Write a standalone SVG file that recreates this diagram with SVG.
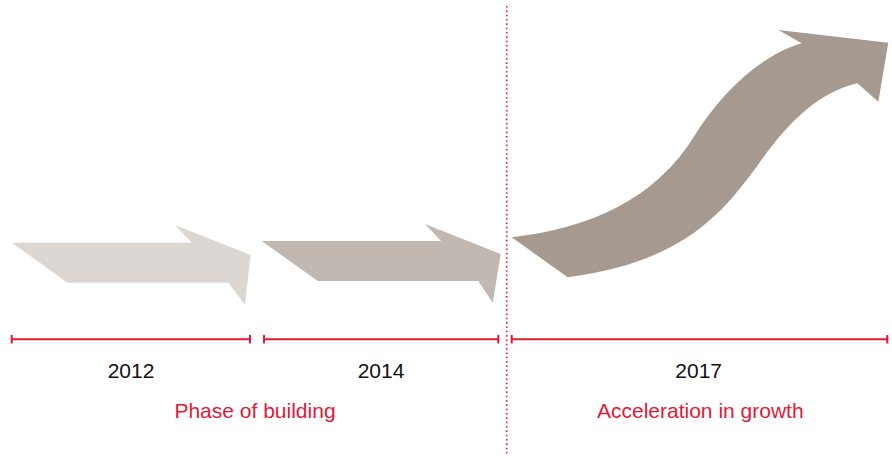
<svg xmlns="http://www.w3.org/2000/svg" width="892" height="456" viewBox="0 0 892 456">
  <style>
    .year { font-family: "Liberation Sans", Arial, sans-serif; font-size: 21px; fill: #111; text-anchor: middle; }
    .phase { font-family: "Liberation Sans", Arial, sans-serif; font-size: 21px; fill: #e31837; text-anchor: middle; }
    .bar { stroke: #e31837; stroke-width: 2; fill: none; }
  </style>
  <rect width="892" height="456" fill="#ffffff"/>

  <!-- growth arrows -->
  <g id="arrow-2012">
    <path d="M11.7,242.7 L191.7,242.7 L175,225 L250.7,255 L245,305 L228.3,282.7 L67.7,282.7 Z" fill="#ddd7d3"/>
  </g>
  <g id="arrow-2014">
    <path d="M261.7,241 L441,241 L425,224 L500.7,254 L492.7,302.7 L478.3,281 L317.7,281 Z" fill="#c1b8b2"/>
  </g>
  <g id="arrow-2017">
    <path d="M511.7,237.3 C590,228 655,200 695,135 C720,95 760,55 801.7,43.3 L778.3,30 L888.3,42.7 L878.3,101.7 L857.3,83.3 C820,92 790,120 760,162 C720,218 680,262 567.7,277.3 Z" fill="#a69a90"/>
  </g>

  <!-- phase divider -->
  <g id="connectors">
    <line x1="506.7" y1="6" x2="506.7" y2="456" stroke="#e31837" stroke-width="1.6" stroke-dasharray="1.6 2.73"/>

    <!-- time spans -->
    <path class="bar" d="M11.7,339.3 H250 M11.7,335 V343.6 M250,335 V343.6"/>
    <path class="bar" d="M264,339.3 H498.3 M264,335 V343.6 M498.3,335 V343.6"/>
    <path class="bar" d="M511.7,339.3 H887.3 M511.7,335 V343.6 M887.3,335 V343.6"/>
  </g>

  <g id="labels">
    <text class="year" x="131" y="377.7">2012</text>
    <text class="year" x="381" y="377.7">2014</text>
    <text class="year" x="698.7" y="377.7">2017</text>
    <text class="phase" x="255" y="417.7">Phase of building</text>
    <text class="phase" x="700.3" y="417.7">Acceleration in growth</text>
  </g>
</svg>
